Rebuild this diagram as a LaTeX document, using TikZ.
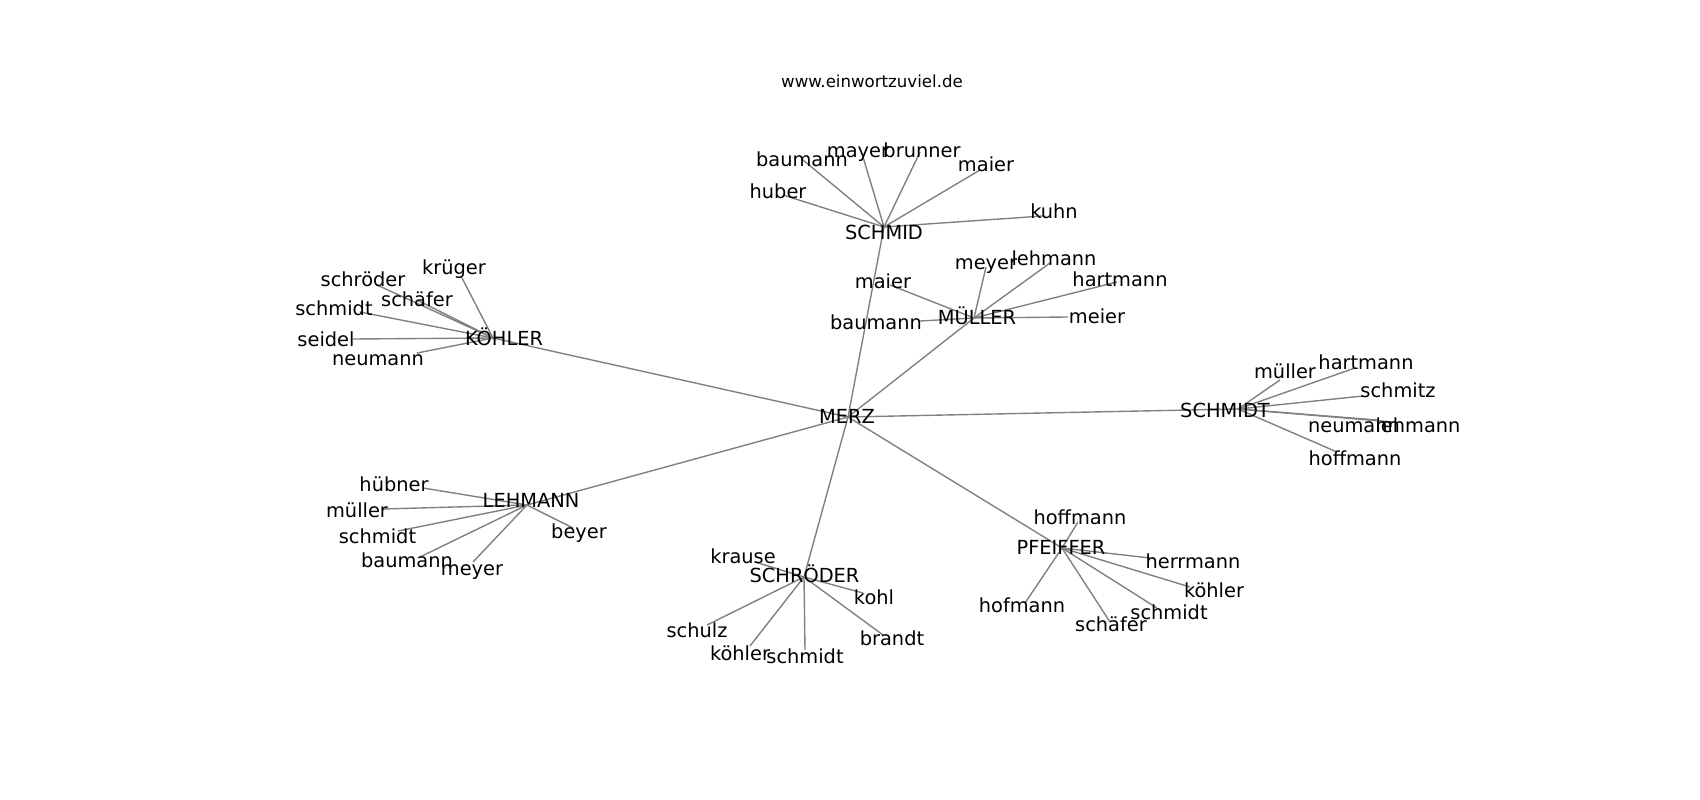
\documentclass[tikz,border=0pt]{standalone}
\usepackage{fontspec}
\setmainfont{DejaVu Sans}
\begin{document}
\begin{tikzpicture}[x=0.01in,y=-0.01in,
  lbl/.style={inner sep=0pt,outer sep=0pt,text height=0.73em,text depth=0pt,anchor=center,yshift=-1.5pt,font=\fontsize{14}{16}\selectfont,text=black},
  ttl/.style={inner sep=0pt,outer sep=0pt,text height=0.73em,text depth=0pt,anchor=center,font=\fontsize{12}{14}\selectfont,text=black},
  edge/.style={draw=gray,line width=1pt}]
\useasboundingbox[fill=white] (0,0) rectangle (1700,800);
% graph node positions
\coordinate (merz) at (848,417);
\coordinate (schmid) at (884,227);
\coordinate (s-huber) at (783,195);
\coordinate (s-baumann) at (803,160);
\coordinate (s-mayer) at (863,157);
\coordinate (s-brunner) at (920,152);
\coordinate (s-maier) at (980,170);
\coordinate (s-kuhn) at (1043,216);
\coordinate (mueller) at (974,318);
\coordinate (m-maier) at (890,285);
\coordinate (m-baumann) at (920,321);
\coordinate (m-meyer) at (986,267);
\coordinate (m-lehmann) at (1050,263);
\coordinate (m-hartmann) at (1117,282);
\coordinate (m-meier) at (1068,317);
\coordinate (koehler) at (493,338);
\coordinate (k-krueger) at (462,278);
\coordinate (k-schroeder) at (377,285);
\coordinate (k-schaefer) at (417,300);
\coordinate (k-schmidt) at (360,312);
\coordinate (k-seidel) at (353,339);
\coordinate (k-neumann) at (417,353);
\coordinate (schmidt) at (1238,409);
\coordinate (t-mueller) at (1280,380);
\coordinate (t-hartmann) at (1355,368);
\coordinate (t-schmitz) at (1363,396);
\coordinate (t-neumann) at (1377,420);
\coordinate (t-lehmann) at (1393,422);
\coordinate (t-hoffmann) at (1337,452);
\coordinate (lehmann) at (527,505);
\coordinate (l-huebner) at (423,488);
\coordinate (l-mueller) at (383,509);
\coordinate (l-schmidt) at (398,531);
\coordinate (l-baumann) at (420,557);
\coordinate (l-meyer) at (473,562);
\coordinate (l-beyer) at (573,528);
\coordinate (schroeder) at (804,577);
\coordinate (r-krause) at (755,562);
\coordinate (r-kohl) at (863,593);
\coordinate (r-schulz) at (707,625);
\coordinate (r-brandt) at (883,635);
\coordinate (r-koehler) at (750,646);
\coordinate (r-schmidt) at (805,650);
\coordinate (pfeiffer) at (1062,548);
\coordinate (p-hoffmann) at (1078,522);
\coordinate (p-herrmann) at (1150,558);
\coordinate (p-koehler) at (1190,587);
\coordinate (p-schmidt) at (1157,608);
\coordinate (p-schaefer) at (1110,622);
\coordinate (p-hofmann) at (1025,603);
% edges
\foreach \a/\b in {merz/schmid,merz/mueller,merz/koehler,merz/schmidt,merz/lehmann,merz/schroeder,merz/pfeiffer,
  schmid/s-huber,schmid/s-baumann,schmid/s-mayer,schmid/s-brunner,schmid/s-maier,schmid/s-kuhn,
  mueller/m-maier,mueller/m-baumann,mueller/m-meyer,mueller/m-lehmann,mueller/m-hartmann,mueller/m-meier,
  koehler/k-krueger,koehler/k-schroeder,koehler/k-schaefer,koehler/k-schmidt,koehler/k-seidel,koehler/k-neumann,
  schmidt/t-mueller,schmidt/t-hartmann,schmidt/t-schmitz,schmidt/t-neumann,schmidt/t-lehmann,schmidt/t-hoffmann,
  lehmann/l-huebner,lehmann/l-mueller,lehmann/l-schmidt,lehmann/l-baumann,lehmann/l-meyer,lehmann/l-beyer,
  schroeder/r-krause,schroeder/r-kohl,schroeder/r-schulz,schroeder/r-brandt,schroeder/r-koehler,schroeder/r-schmidt,
  pfeiffer/p-hoffmann,pfeiffer/p-herrmann,pfeiffer/p-koehler,pfeiffer/p-schmidt,pfeiffer/p-schaefer,pfeiffer/p-hofmann}
  {\draw[edge] (\a) -- (\b);}
% labels
\node[ttl] (title) at (872,82) {www.einwortzuviel.de};
\node[lbl] (L-merz) at (847,416) {MERZ};
\node[lbl] (L-schmid) at (884,232.5) {SCHMID};
\node[lbl] (L-s-huber) at (778,191) {huber};
\node[lbl] (L-s-baumann) at (802,159) {baumann};
\node[lbl] (L-s-mayer) at (858,150) {mayer};
\node[lbl] (L-s-brunner) at (922,150) {brunner};
\node[lbl] (L-s-maier) at (986,164) {maier};
\node[lbl] (L-s-kuhn) at (1054,211) {kuhn};
\node[lbl] (L-mueller) at (977,317.5) {MÜLLER};
\node[lbl] (L-m-maier) at (883,281) {maier};
\node[lbl] (L-m-baumann) at (876,322) {baumann};
\node[lbl] (L-m-meyer) at (986,262) {meyer};
\node[lbl] (L-m-lehmann) at (1054,258) {lehmann};
\node[lbl] (L-m-hartmann) at (1120,279.5) {hartmann};
\node[lbl] (L-m-meier) at (1097,316) {meier};
\node[lbl] (L-koehler) at (504,338) {KÖHLER};
\node[lbl] (L-k-krueger) at (454,267.5) {krüger};
\node[lbl] (L-k-schroeder) at (363,279) {schröder};
\node[lbl] (L-k-schaefer) at (417,299) {schäfer};
\node[lbl] (L-k-schmidt) at (334,308.5) {schmidt};
\node[lbl] (L-k-seidel) at (326,339) {seidel};
\node[lbl] (L-k-neumann) at (378,358) {neumann};
\node[lbl] (L-schmidt) at (1225,410.7) {SCHMIDT};
\node[lbl] (L-t-mueller) at (1285,371.5) {müller};
\node[lbl] (L-t-hartmann) at (1366,362.5) {hartmann};
\node[lbl] (L-t-schmitz) at (1398,390) {schmitz};
\node[lbl] (L-t-neumann) at (1354,425) {neumann};
\node[lbl] (L-t-lehmann) at (1418,425) {lehmann};
\node[lbl] (L-t-hoffmann) at (1355,458) {hoffmann};
\node[lbl] (L-lehmann) at (531,500.5) {LEHMANN};
\node[lbl] (L-l-huebner) at (394,484.5) {hübner};
\node[lbl] (L-l-mueller) at (357,510) {müller};
\node[lbl] (L-l-schmidt) at (377.5,536.5) {schmidt};
\node[lbl] (L-l-baumann) at (407,560) {baumann};
\node[lbl] (L-l-meyer) at (472,568) {meyer};
\node[lbl] (L-l-beyer) at (579,531.5) {beyer};
\node[lbl] (L-schroeder) at (804.5,575) {SCHRÖDER};
\node[lbl] (L-r-krause) at (743,556) {krause};
\node[lbl] (L-r-kohl) at (874,597) {kohl};
\node[lbl] (L-r-schulz) at (697,630.5) {schulz};
\node[lbl] (L-r-brandt) at (892,638) {brandt};
\node[lbl] (L-r-koehler) at (740,653) {köhler};
\node[lbl] (L-r-schmidt) at (805,656) {schmidt};
\node[lbl] (L-pfeiffer) at (1061,547.3) {PFEIFFER};
\node[lbl] (L-p-hoffmann) at (1080,517.5) {hoffmann};
\node[lbl] (L-p-herrmann) at (1193,561.5) {herrmann};
\node[lbl] (L-p-koehler) at (1214,590) {köhler};
\node[lbl] (L-p-schmidt) at (1169,612.5) {schmidt};
\node[lbl] (L-p-schaefer) at (1111,624.5) {schäfer};
\node[lbl] (L-p-hofmann) at (1022,605) {hofmann};
\end{tikzpicture}
\end{document}
